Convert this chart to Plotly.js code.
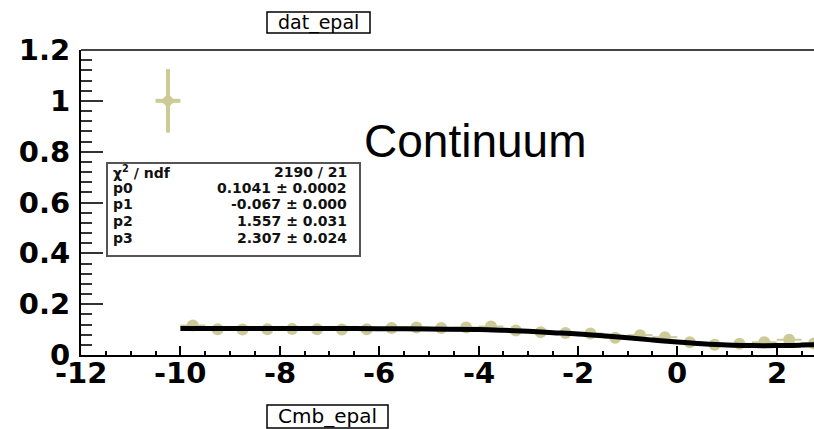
<!DOCTYPE html>
<html>
<head>
<meta charset="utf-8">
<script src="https://cdn.plot.ly/plotly-3.0.1.min.js"></script>
<style>
  html, body { margin: 0; padding: 0; background: #ffffff; }
  #chart { width: 814px; height: 429px; }
</style>
</head>
<body>
<div id="chart"></div>
<script>
// Binned continuum data (bin centres, contents, errors)
const binCenters = [-9.75, -9.25, -8.75, -8.25, -7.75, -7.25, -6.75, -6.25, -5.75, -5.25,
                    -4.75, -4.25, -3.75, -3.25, -2.75, -2.25, -1.75, -1.25, -0.75, -0.25,
                    0.25, 0.75, 1.25, 1.75, 2.25, 2.75];
const binValues  = [0.116, 0.101, 0.100, 0.101, 0.102, 0.101, 0.100, 0.101, 0.106, 0.108,
                    0.106, 0.108, 0.112, 0.096, 0.090, 0.087, 0.085, 0.068, 0.078, 0.070,
                    0.050, 0.040, 0.044, 0.050, 0.060, 0.045];
const binValueErr = [0.003, 0.002, 0.002, 0.002, 0.002, 0.002, 0.002, 0.002, 0.002, 0.002,
                     0.002, 0.002, 0.002, 0.002, 0.002, 0.002, 0.002, 0.002, 0.002, 0.002,
                     0.002, 0.002, 0.002, 0.002, 0.002, 0.002];
const binHalfWidth = 0.25;

// Isolated high bin
const outlierX = [-10.25];
const outlierY = [1.0];
const outlierErr = [0.125];

// Fitted function, sampled along x
const fitX = [-10, -9, -8, -7, -6, -5, -4, -3.5, -3, -2.5, -2, -1.5, -1, -0.5,
              0, 0.5, 1, 1.5, 2, 2.5, 3];
const fitY = [0.104, 0.104, 0.104, 0.104, 0.1035, 0.102, 0.100, 0.097, 0.093, 0.088,
              0.083, 0.076, 0.068, 0.059, 0.051, 0.044, 0.039, 0.037, 0.037, 0.039, 0.042];

// Tick labels
const xTickVals = [-12, -10, -8, -6, -4, -2, 0, 2];
const xTickText = ['-12', '-10', '-8', '-6', '-4', '-2', '0', '2'];
const yTickVals = [0, 0.2, 0.4, 0.6, 0.8, 1, 1.2];
const yTickText = ['0', '0.2', '0.4', '0.6', '0.8', '1', '1.2'];

// Fit statistics box rows
const statLabels = ['χ<sup>2</sup> / ndf', 'p0', 'p1', 'p2', 'p3'];
const statValues = ['2190 / 21', '0.1041 ± 0.0002', '-0.067 ± 0.000', '1.557 ± 0.031', '2.307 ± 0.024'];

// Frame geometry in pixels
const W = 814, H = 429;
const M = { l: 81, r: 0, t: 50, b: 74 };
const plotW = W - M.l - M.r, plotH = H - M.t - M.b;
const px = X => (X - M.l) / plotW;
const py = Y => (H - M.b - Y) / plotH;

const olive = '#cdca98';
const tickFont = { family: 'DejaVu Sans', size: 29, color: '#000000', weight: 'bold' };
const statFont = { family: 'DejaVu Sans', size: 14, color: '#111111', weight: 'bold' };

const traces = [
  {
    type: 'scatter', mode: 'markers',
    x: binCenters, y: binValues,
    marker: { symbol: 'circle', size: 12, color: olive },
    error_x: { type: 'constant', value: binHalfWidth, color: olive, thickness: 2, width: 0 },
    error_y: { type: 'data', array: binValueErr, color: olive, thickness: 2, width: 0 },
    hoverinfo: 'skip'
  },
  {
    type: 'scatter', mode: 'markers',
    x: outlierX, y: outlierY,
    marker: { symbol: 'diamond', size: 11, color: olive },
    error_x: { type: 'constant', value: binHalfWidth, color: olive, thickness: 4, width: 0 },
    error_y: { type: 'data', array: outlierErr, color: olive, thickness: 4, width: 0 },
    hoverinfo: 'skip'
  },
  {
    type: 'scatter', mode: 'lines',
    x: fitX, y: fitY,
    line: { color: '#000000', width: 5, shape: 'spline', smoothing: 1 },
    hoverinfo: 'skip'
  }
];

const annotations = [
  {
    xref: 'paper', yref: 'paper', x: px(318.5), y: py(22),
    xanchor: 'center', yanchor: 'middle', showarrow: false,
    text: 'dat_epal', font: { family: 'DejaVu Sans', size: 19, color: '#000000' }
  },
  {
    xref: 'paper', yref: 'paper', x: px(327.5), y: py(416),
    xanchor: 'center', yanchor: 'middle', showarrow: false,
    text: 'Cmb_epal', font: { family: 'DejaVu Sans', size: 20, color: '#000000' }
  },
  {
    xref: 'paper', yref: 'paper', x: px(475), y: py(141),
    xanchor: 'center', yanchor: 'middle', showarrow: false,
    text: 'Continuum', font: { family: 'Liberation Sans, Arial', size: 46, color: '#000000' }
  }
];

// x tick labels sit close under the axis line
xTickVals.forEach((v, i) => {
  annotations.push({
    xref: 'x', yref: 'paper', x: v, y: py(373),
    xanchor: 'center', yanchor: 'middle', showarrow: false,
    text: xTickText[i], font: tickFont
  });
});

const rowY = [172, 188, 204, 221, 238];
statLabels.forEach((lab, i) => {
  annotations.push({
    xref: 'paper', yref: 'paper', x: px(111), y: py(rowY[i]),
    xanchor: 'left', yanchor: 'middle', showarrow: false,
    text: lab, font: statFont
  });
  annotations.push({
    xref: 'paper', yref: 'paper', x: px(349), y: py(rowY[i]),
    xanchor: 'right', yanchor: 'middle', showarrow: false,
    text: statValues[i], font: statFont
  });
});

const shapes = [
  // upper frame edge
  { type: 'line', xref: 'paper', yref: 'paper', x0: 0, x1: 1, y0: 1, y1: 1,
    line: { color: '#444444', width: 2 } },
  // statistics box
  { type: 'rect', xref: 'paper', yref: 'paper', x0: px(107), x1: px(360), y0: py(256), y1: py(163),
    line: { color: '#555555', width: 2 }, fillcolor: '#ffffff', layer: 'above' },
  // title pave
  { type: 'rect', xref: 'paper', yref: 'paper', x0: px(267), x1: px(370), y0: py(33), y1: py(12),
    line: { color: '#000000', width: 1.5 }, fillcolor: 'rgba(0,0,0,0)' },
  // x-axis name pave
  { type: 'rect', xref: 'paper', yref: 'paper', x0: px(267), x1: px(388), y0: py(428), y1: py(405),
    line: { color: '#000000', width: 1.5 }, fillcolor: 'rgba(0,0,0,0)' }
];

const layout = {
  width: W, height: H,
  margin: M,
  paper_bgcolor: '#ffffff', plot_bgcolor: '#ffffff',
  showlegend: false,
  xaxis: {
    range: [-12, 2.75], tickmode: 'array', tickvals: xTickVals, showticklabels: false,
    ticks: 'inside', ticklen: 9, tickwidth: 2, tickcolor: '#000000',
    minor: { dtick: 0.5, tick0: -12, ticks: 'inside', ticklen: 4, tickwidth: 2, tickcolor: '#000000' },
    showline: true, linecolor: '#000000', linewidth: 2,
    showgrid: false, zeroline: false
  },
  yaxis: {
    range: [0, 1.2], tickmode: 'array', tickvals: yTickVals, ticktext: yTickText,
    ticks: 'inside', ticklen: 22, tickwidth: 2, tickcolor: '#333333',
    minor: { dtick: 0.04, tick0: 0, ticks: 'inside', ticklen: 11, tickwidth: 2, tickcolor: '#333333' },
    showline: true, linecolor: '#000000', linewidth: 2,
    showgrid: false, zeroline: false, tickfont: tickFont, ticklabelstandoff: 3
  },
  shapes: shapes,
  annotations: annotations
};

Plotly.newPlot('chart', traces, layout, { displayModeBar: false, staticPlot: true });
</script>
</body>
</html>
